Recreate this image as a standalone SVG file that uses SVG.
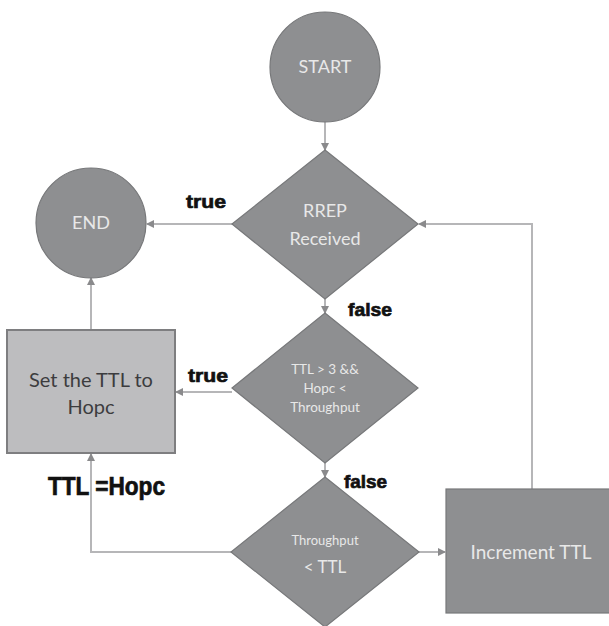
<svg xmlns="http://www.w3.org/2000/svg" width="609" height="626" viewBox="0 0 609 626">
  <style>
    .node { fill: #8e8f91; stroke: #77787a; stroke-width: 1.2; }
    .box-light { fill: #bdbdbf; stroke: #7e7e80; stroke-width: 2; }
    .wtxt { font-family: Lato, "Open Sans", "Liberation Sans", sans-serif; fill: #e8e8e8; text-anchor: middle; }
    .dtxt { font-family: Lato, "Open Sans", "Liberation Sans", sans-serif; fill: #3c3c3e; text-anchor: middle; }
    .lbl { font-family: "Liberation Sans", Arial, sans-serif; font-weight: bold; fill: #111; stroke: #111; stroke-width: 0.7; }
    .conn { fill: none; stroke: #b6b6b8; stroke-width: 2; }
  </style>
  <defs>
    <marker id="arrow" viewBox="0 0 8 8" refX="7" refY="4" markerWidth="4" markerHeight="4" orient="auto" markerUnits="strokeWidth">
      <path d="M0,0 L8,4 L0,8 Z" fill="#8a8a8c"/>
    </marker>
  </defs>

  <rect width="609" height="626" fill="#ffffff"/>

  <!-- connectors -->
  <g id="connectors">
    <path class="conn" d="M325,121 L325,150" marker-end="url(#arrow)"/>
    <path class="conn" d="M232,224 L147,224" marker-end="url(#arrow)"/>
    <path class="conn" d="M325,299 L325,313" marker-end="url(#arrow)"/>
    <path class="conn" d="M232,392 L176,392" marker-end="url(#arrow)"/>
    <path class="conn" d="M91,330 L91,278" marker-end="url(#arrow)"/>
    <path class="conn" d="M325,463 L325,477" marker-end="url(#arrow)"/>
    <path class="conn" d="M231,552 L91,552 L91,454" marker-end="url(#arrow)"/>
    <path class="conn" d="M419,552 L445,552" marker-end="url(#arrow)"/>
    <path class="conn" d="M532,489 L532,224 L419,224" marker-end="url(#arrow)"/>
  </g>

  <!-- edge labels -->
  <g id="labels">
    <text class="lbl" x="186" y="208" font-size="19" textLength="40" lengthAdjust="spacingAndGlyphs">true</text>
    <text class="lbl" x="348" y="316" font-size="19" textLength="44" lengthAdjust="spacingAndGlyphs">false</text>
    <text class="lbl" x="188" y="382" font-size="19" textLength="40" lengthAdjust="spacingAndGlyphs">true</text>
    <text class="lbl" x="344" y="488" font-size="19" textLength="43" lengthAdjust="spacingAndGlyphs">false</text>
    <text class="lbl" x="48" y="495" font-size="25" textLength="117" lengthAdjust="spacingAndGlyphs">TTL =Hopc</text>
  </g>

  <!-- nodes -->
  <g id="start">
    <circle class="node" cx="325" cy="67" r="55"/>
    <text class="wtxt" x="325" y="73" font-size="18">START</text>
  </g>

  <g id="end">
    <circle class="node" cx="91" cy="223" r="55"/>
    <text class="wtxt" x="91" y="229" font-size="18">END</text>
  </g>

  <g id="rrep-received">
    <polygon class="node" points="325,150 418,224 325,299 232,224"/>
    <text class="wtxt" x="325" y="217" font-size="18">RREP</text>
    <text class="wtxt" x="325" y="245" font-size="18">Received</text>
  </g>

  <g id="ttl-check">
    <polygon class="node" points="325,313 418,388 325,463 232,388"/>
    <text class="wtxt" x="325" y="374" font-size="13.5">TTL &gt; 3 &amp;&amp;</text>
    <text class="wtxt" x="325" y="393" font-size="13.5">Hopc &lt;</text>
    <text class="wtxt" x="325" y="412" font-size="13.5">Throughput</text>
  </g>

  <g id="throughput-check">
    <polygon class="node" points="325,477 419,552 325,627 231,552"/>
    <text class="wtxt" x="325" y="545" font-size="13">Throughput</text>
    <text class="wtxt" x="325" y="573" font-size="17">&lt; TTL</text>
  </g>

  <g id="set-ttl">
    <rect class="box-light" x="7" y="330" width="168" height="123"/>
    <text class="dtxt" x="91" y="387" font-size="20">Set the TTL to</text>
    <text class="dtxt" x="91" y="414" font-size="20">Hopc</text>
  </g>

  <g id="increment-ttl">
    <rect class="node" x="446" y="489" width="170" height="124"/>
    <text class="wtxt" x="531" y="559" font-size="19">Increment TTL</text>
  </g>
</svg>
